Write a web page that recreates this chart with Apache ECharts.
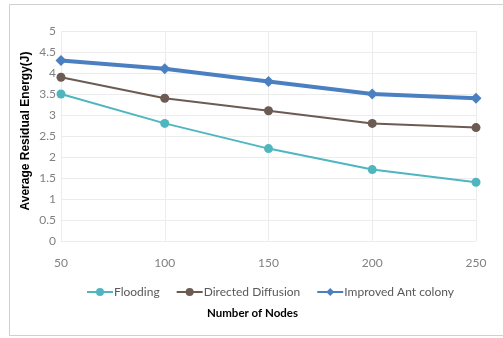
<!DOCTYPE html>
<html>
<head>
<meta charset="utf-8">
<style>
  html, body { margin: 0; padding: 0; background: #ffffff; }
  #chart { width: 503px; height: 338px; }
</style>
<script src="https://cdn.jsdelivr.net/npm/echarts@6/dist/echarts.min.js"></script>
</head>
<body>
<div id="chart"></div>
<script>
// Number of nodes on the x axis
const nodes = ['50', '100', '150', '200', '250'];
// Average residual energy (J) per protocol
const flooding = [3.5, 2.8, 2.2, 1.7, 1.4];
const directedDiffusion = [3.9, 3.4, 3.1, 2.8, 2.7];
const improvedAntColony = [4.3, 4.1, 3.8, 3.5, 3.4];
const seriesNames = ['Flooding', 'Directed Diffusion', 'Improved Ant colony'];

const chart = echarts.init(document.getElementById('chart'));

const labelFont = 'Lato, "Open Sans", sans-serif';
const frameColor = '#d0d0d0';

chart.setOption({
  animation: false,
  backgroundColor: '#ffffff',
  graphic: [
    // outer frame: top, left and bottom edges
    { type: 'line', shape: { x1: 9.5, y1: 4.5, x2: 510, y2: 4.5 }, style: { stroke: frameColor, lineWidth: 1 } },
    { type: 'line', shape: { x1: 9.5, y1: 4.5, x2: 9.5, y2: 335.5 }, style: { stroke: frameColor, lineWidth: 1 } },
    { type: 'line', shape: { x1: 9.5, y1: 335.5, x2: 510, y2: 335.5 }, style: { stroke: frameColor, lineWidth: 1 } },
    {
      type: 'text',
      left: 207,
      top: 307,
      style: {
        text: 'Number of Nodes',
        font: 'bold 11.5px Lato, sans-serif',
        fill: '#000000'
      }
    },
    {
      type: 'text',
      x: 26,
      y: 131,
      rotation: Math.PI / 2,
      style: {
        text: 'Average Residual Energy(J)',
        font: 'bold 12px "Liberation Sans", Arial, sans-serif',
        fill: '#000000',
        align: 'center',
        verticalAlign: 'middle'
      }
    }
  ],
  grid: { left: 61, right: 27, top: 31, bottom: 97 },
  legend: {
    data: seriesNames,
    left: 81,
    top: 281,
    itemWidth: 26,
    itemHeight: 10,
    itemGap: 16,
    textStyle: { fontFamily: labelFont, fontSize: 12, color: '#595959', padding: [0, 0, 0, -4] }
  },
  xAxis: {
    type: 'category',
    data: nodes,
    boundaryGap: false,
    axisLine: { show: false },
    axisTick: { show: false },
    axisLabel: { color: '#808080', fontFamily: labelFont, fontSize: 12, margin: 16 },
    splitLine: { show: true, lineStyle: { color: '#ececec', width: 1 } }
  },
  yAxis: {
    type: 'value',
    min: 0,
    max: 5,
    interval: 0.5,
    axisLine: { show: false },
    axisTick: { show: false },
    axisLabel: { color: '#808080', fontFamily: labelFont, fontSize: 12, margin: 5 },
    splitLine: { lineStyle: { color: '#ececec', width: 1 } }
  },
  series: [
    {
      name: seriesNames[0],
      type: 'line',
      data: flooding,
      symbol: 'circle',
      symbolSize: 9,
      itemStyle: { color: '#4fb6c0' },
      lineStyle: { color: '#4fb6c0', width: 2 }
    },
    {
      name: seriesNames[1],
      type: 'line',
      data: directedDiffusion,
      symbol: 'circle',
      symbolSize: 9,
      itemStyle: { color: '#6b5b52' },
      lineStyle: { color: '#6b5b52', width: 2 }
    },
    {
      name: seriesNames[2],
      type: 'line',
      data: improvedAntColony,
      symbol: 'diamond',
      symbolSize: 11,
      itemStyle: { color: '#4a7fc1' },
      lineStyle: { color: '#4a7fc1', width: 4 }
    }
  ]
});
</script>
</body>
</html>
